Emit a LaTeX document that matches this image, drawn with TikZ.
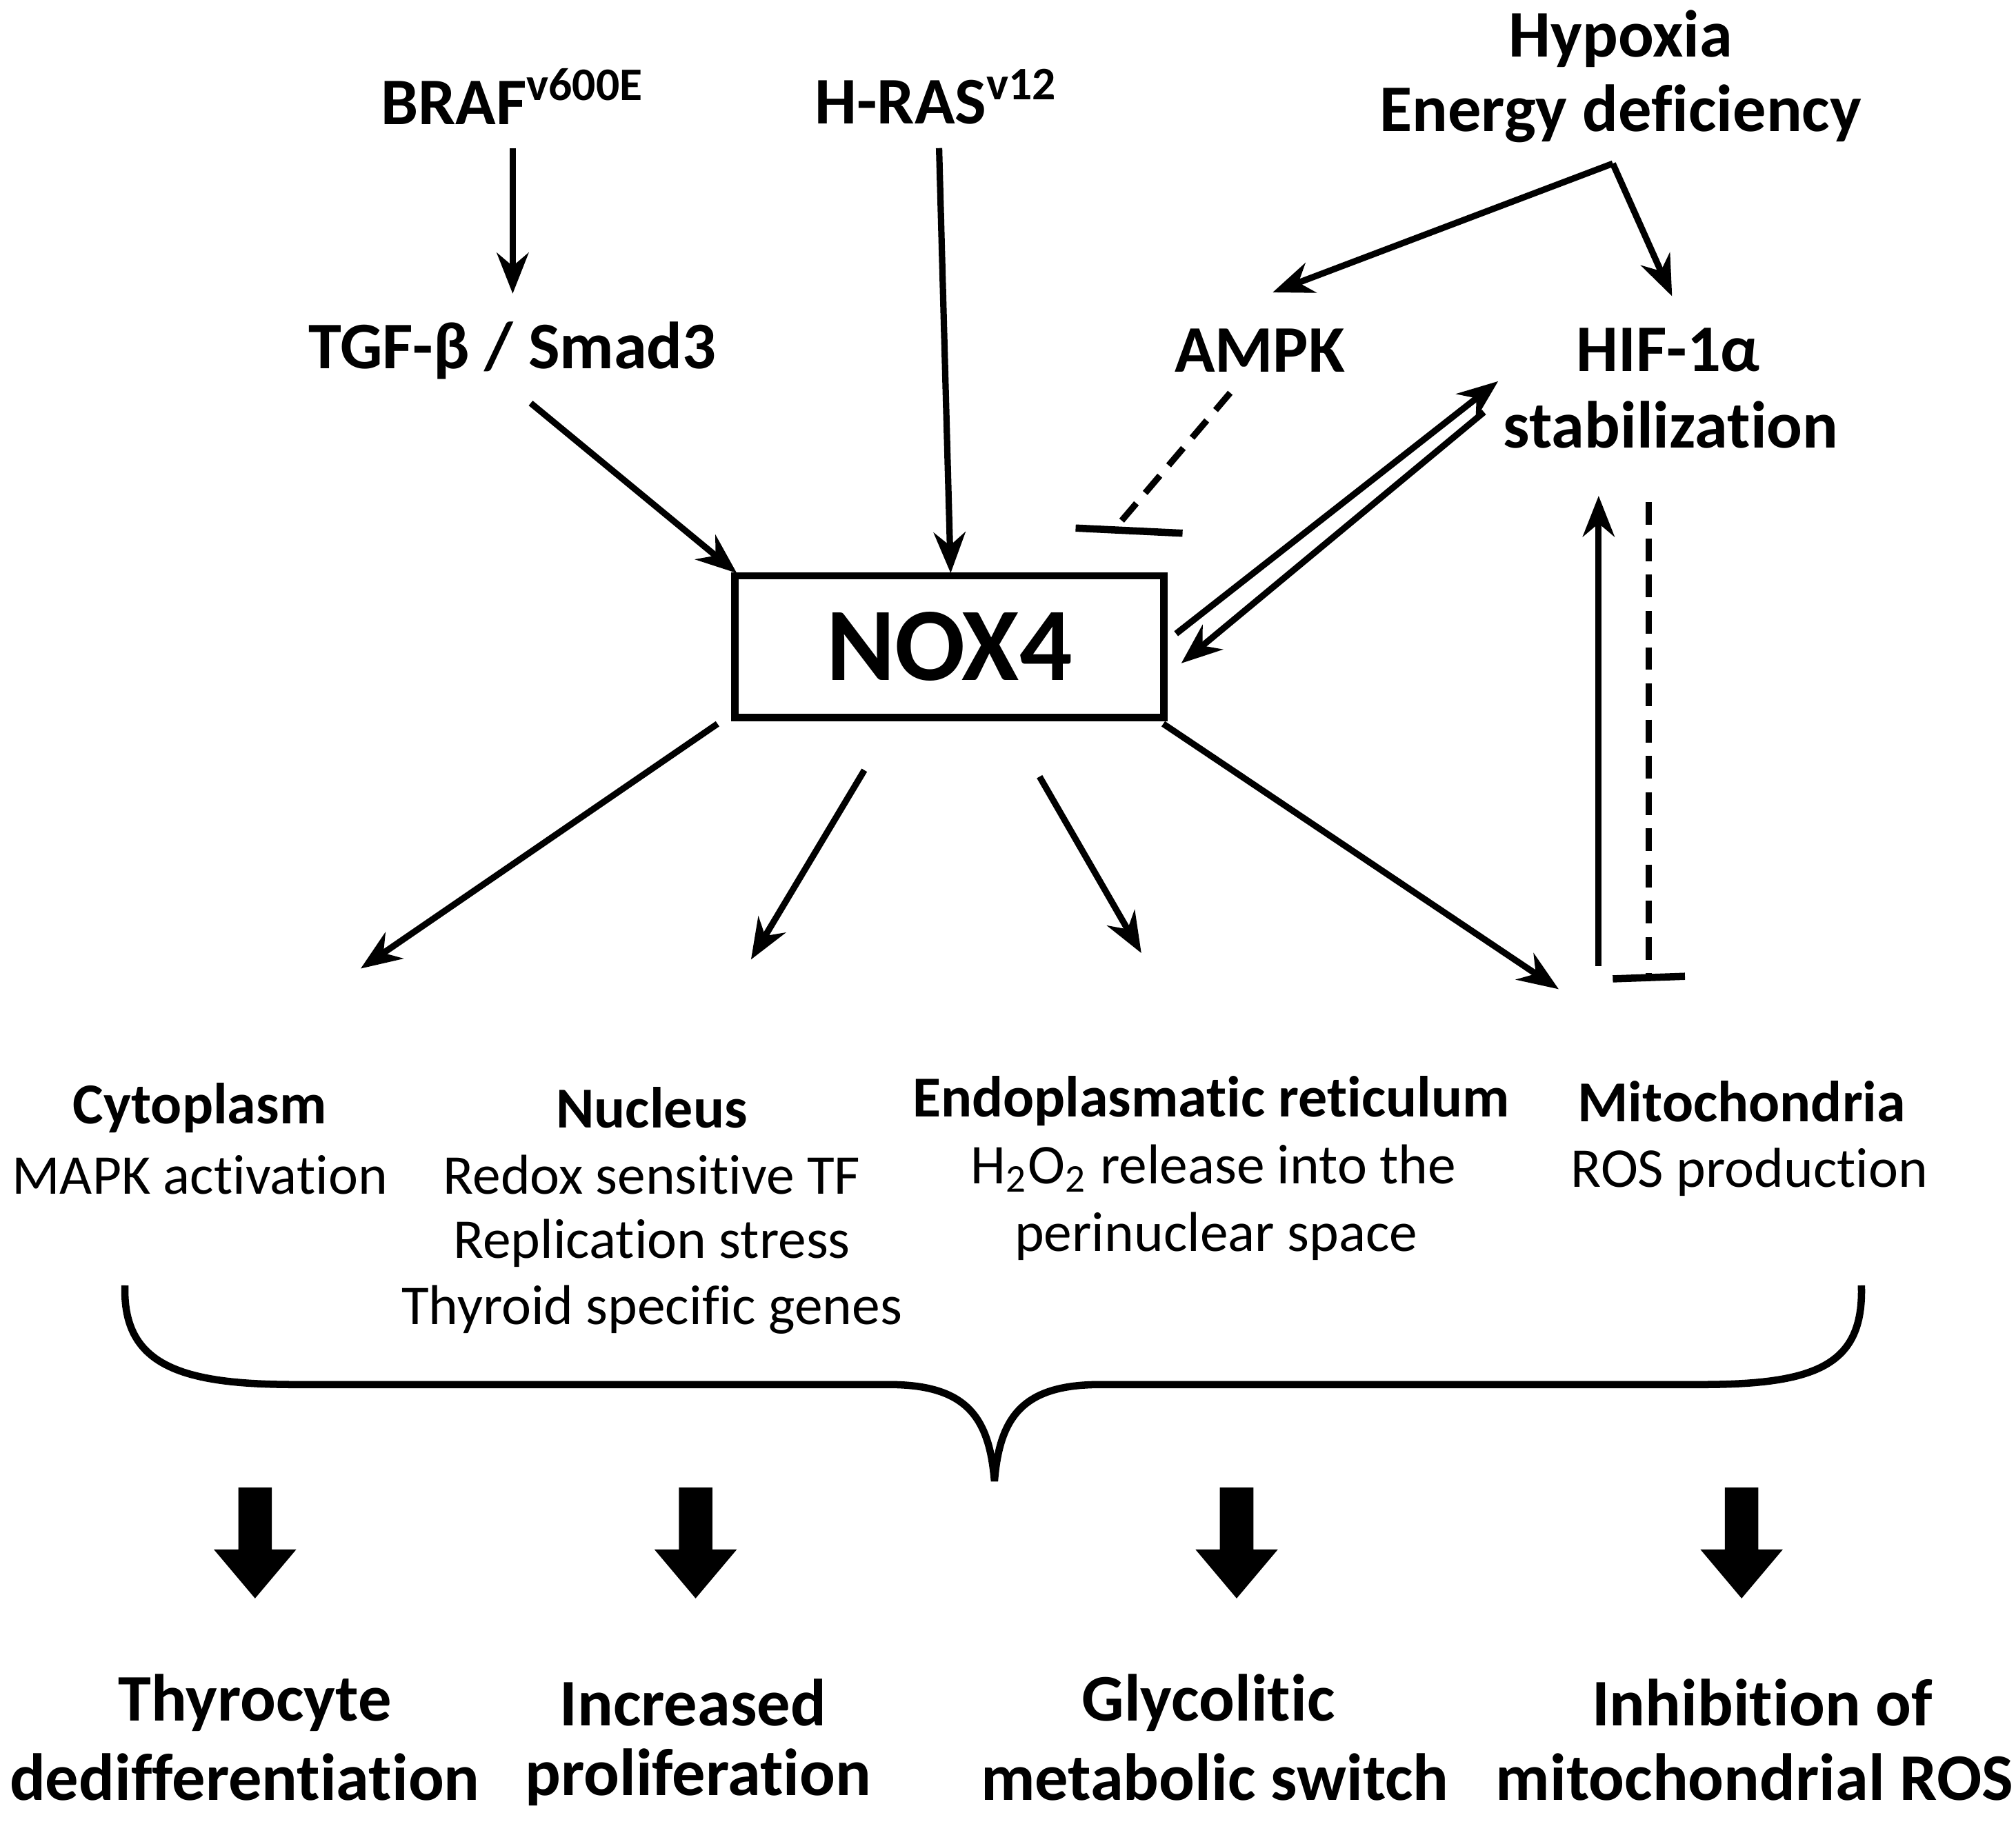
\documentclass[tikz,border=0pt]{standalone}
\usepackage{fontspec}
\setmainfont{Carlito}[Ligatures={NoCommon,NoRare,NoDiscretionary}]
\usetikzlibrary{arrows.meta}
\begin{document}
\begin{tikzpicture}[x=0.01cm,y=-0.01cm,
 lab/.style={font=\fontsize{12.4}{15}\selectfont,inner sep=0pt,anchor=center},
 blab/.style={font=\bfseries\fontsize{12.8}{15}\selectfont,inner sep=0pt,anchor=center},
 big/.style={font=\bfseries\fontsize{14.7}{18}\selectfont,inner sep=0pt,anchor=center},
 arr/.style={line width=1.4pt,-{Stealth[length=9pt,width=7pt]}},
 inh/.style={line width=1.4pt,dashed,dash pattern=on 5pt off 3pt},
 blk/.style={fill=black,draw=none}]
\useasboundingbox (0,0) rectangle (1565,1416);
\node[big] (braf) at (398,75) {BRAF\textsuperscript{v600E}};
\node[big] (hras) at (727,75) {H-RAS\textsuperscript{v12}};
\node[big] (hyp) at (1258,30) {Hypoxia};
\node[big] (en) at (1258,88) {Energy deficiency};
\node[big] (tgf) at (398,272) {TGF-β / Smad3};
\node[big] (ampk) at (978,272) {AMPK};
\node[big] (hif) at (1295,272) {HIF-1α};
\node[big] (stab) at (1297,330) {stabilization};
\node[draw,line width=1.6pt,minimum width=3.33cm,minimum height=1.1cm,font=\bfseries\fontsize{23}{26}\selectfont] (nox) at (737,502) {NOX4};
\coordinate (b1) at (398,115); \coordinate (b2) at (398,228);
\draw[arr] (b1) -- (b2);
\coordinate (h1) at (729,115); \coordinate (h2) at (738,445);
\draw[arr] (h1) -- (h2);
\coordinate (t1) at (412,313); \coordinate (t2) at (572,445);
\draw[arr] (t1) -- (t2);
\coordinate (hp) at (1252,127); \coordinate (ha) at (988,227); \coordinate (hh) at (1298,230);
\draw[arr] (hp) -- (ha);
\draw[arr] (hp) -- (hh);
\coordinate (a1) at (955,305); \coordinate (a2) at (865,411);
\coordinate (a3) at (835,410); \coordinate (a4) at (918,414);
\draw[inh] (a1) -- (a2);
\draw[line width=1.6pt] (a3) -- (a4);
\coordinate (n1) at (913,492); \coordinate (n2) at (1163,296);
\coordinate (n3) at (1152,320); \coordinate (n4) at (917,515);
\draw[arr] (n1) -- (n2);
\draw[arr] (n3) -- (n4);
\coordinate (v1) at (1241,750); \coordinate (v2) at (1241,385);
\draw[arr] (v1) -- (v2);
\coordinate (d1) at (1280,390); \coordinate (d2) at (1280,759);
\coordinate (d3) at (1252,760); \coordinate (d4) at (1308,758);
\draw[inh] (d1) -- (d2);
\draw[line width=1.6pt] (d3) -- (d4);
\coordinate (o1) at (557,562); \coordinate (e1) at (280,752);
\coordinate (o2) at (671,598); \coordinate (e2) at (583,745);
\coordinate (o3) at (807,603); \coordinate (e3) at (886,740);
\coordinate (o4) at (903,562); \coordinate (e4) at (1210,768);
\draw[arr] (o1) -- (e1);
\draw[arr] (o2) -- (e2);
\draw[arr] (o3) -- (e3);
\draw[arr] (o4) -- (e4);
\node[blab] (cyt) at (155,860) {Cytoplasm};
\node[lab] (mapk) at (155,912) {MAPK activation};
\node[blab] (nuc) at (506,860) {Nucleus};
\node[lab] (rs) at (506,912) {Redox sensitive TF};
\node[lab] (rep) at (506,965) {Replication stress};
\node[lab] (thy) at (506,1017) {Thyroid specific genes};
\node[blab] (er) at (940,855) {Endoplasmatic reticulum};
\node[lab] (h2o2) at (942,907) {H\textsubscript{2}O\textsubscript{2} release into the};
\node[lab] (peri) at (944,960) {perinuclear space};
\node[blab] (mit) at (1352,855) {Mitochondria};
\node[lab] (ros) at (1358,910) {ROS production};
\coordinate (bl) at (97,998); \coordinate (bm) at (772,1150); \coordinate (br) at (1445,998);
\draw[line width=1.6pt] (bl) .. controls (95,1060) and (140,1075) .. (230,1075)
 -- (690,1075) .. controls (750,1075) and (768,1100) .. (bm)
 .. controls (776,1100) and (794,1075) .. (854,1075)
 -- (1320,1075) .. controls (1410,1075) and (1447,1060) .. (br);
\foreach \x/\n in {198/k1,540/k2,960/k3,1352/k4}{
 \fill[blk] (\x-13,1155) -- (\x+13,1155) -- (\x+13,1203) -- (\x+32,1203) -- (\x,1241) -- (\x-32,1203) -- (\x-13,1203) -- cycle;}
\node[big] (o1a) at (198,1322) {Thyrocyte};
\node[big] (o1b) at (190,1380) {dedifferentiation};
\node[big] (o2a) at (538,1322) {Increased};
\node[big] (o2b) at (542,1380) {proliferation};
\node[big] (o3a) at (938,1322) {Glycolitic};
\node[big] (o3b) at (943,1380) {metabolic switch};
\node[big] (o4a) at (1368,1322) {Inhibition of};
\node[big] (o4b) at (1362,1380) {mitochondrial ROS};
\end{tikzpicture}
\end{document}
